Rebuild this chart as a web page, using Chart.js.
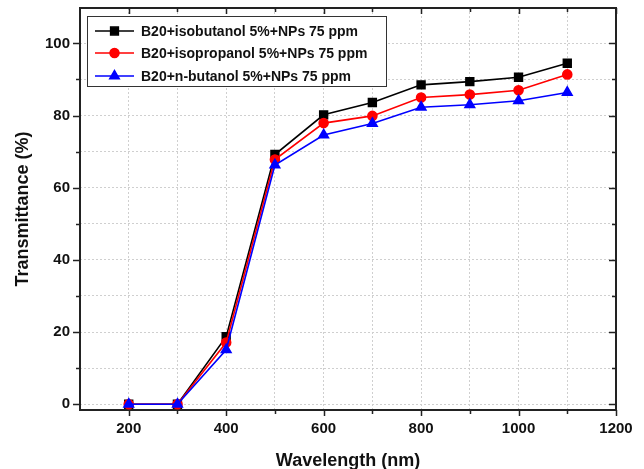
<!DOCTYPE html>
<html>
<head>
<meta charset="utf-8">
<script src="https://cdn.jsdelivr.net/npm/chart.js@4/dist/chart.umd.min.js"></script>
<style>
  html, body { margin: 0; padding: 0; background: #fff; }
  #wrap { width: 644px; height: 469px; position: relative; }
</style>
</head>
<body>
<div id="wrap"><canvas id="chart"></canvas></div>
<script>
// wavelength (nm)
const wavelengths = [200, 300, 400, 500, 600, 700, 800, 900, 1000, 1100];

// transmittance (%)
const isobutanol = [0, 0, 18.7, 69.2, 80.2, 83.6, 88.5, 89.4, 90.6, 94.5];
const isopropanol = [0, 0, 17.1, 67.8, 77.9, 79.9, 85.0, 85.8, 87.0, 91.4];
const nButanol = [0, 0, 15.1, 66.3, 74.6, 77.8, 82.3, 83.0, 84.1, 86.4];

const seriesLabels = [
    'B20+isobutanol 5%+NPs 75 ppm',
    'B20+isopropanol 5%+NPs 75 ppm',
    'B20+n-butanol 5%+NPs 75 ppm'
];

const xTicks = [200, 400, 600, 800, 1000, 1200];
const yTicks = [0, 20, 40, 60, 80, 100];

const FONT = '"Liberation Sans", Arial, sans-serif';

function toPoints(ys) {
    return wavelengths.map((x, i) => ({ x: x, y: ys[i] }));
}

// frame, tick marks on all four sides
const framePlugin = {
    id: 'frame',
    beforeDatasetsDraw(chart) {
        const { ctx, chartArea: a, scales } = chart;
        const xs = scales.x, ys = scales.y;
        ctx.save();
        ctx.strokeStyle = '#222';
        ctx.lineWidth = 1.5;
        // x ticks every 100 nm
        for (let v = 200; v <= 1200; v += 100) {
            const px = Math.round(xs.getPixelForValue(v)) + 0.5;
            const major = v % 200 === 0;
            const len = major ? 6 : 4;
            ctx.beginPath();
            ctx.moveTo(px, a.bottom);
            ctx.lineTo(px, a.bottom + len);
            ctx.moveTo(px, a.top);
            ctx.lineTo(px, a.top + len);
            ctx.stroke();
        }
        // y ticks every 10
        for (let v = 0; v <= 100; v += 10) {
            const py = Math.round(ys.getPixelForValue(v)) + 0.5;
            const major = v % 20 === 0;
            const len = major ? 7 : 4;
            ctx.beginPath();
            ctx.moveTo(a.left, py);
            ctx.lineTo(a.left - len, py);
            ctx.moveTo(a.right, py);
            ctx.lineTo(a.right - len, py);
            ctx.stroke();
        }
        ctx.lineWidth = 2;
        ctx.strokeRect(a.left, a.top, a.right - a.left, a.bottom - a.top);
        ctx.restore();
    }
};

// legend box in the upper left corner of the plot
const legendPlugin = {
    id: 'boxLegend',
    afterDraw(chart) {
        const ctx = chart.ctx;
        const x0 = 87, y0 = 16, w = 299, h = 70;
        const rows = [31, 53, 76];
        ctx.save();
        ctx.fillStyle = '#fff';
        ctx.fillRect(x0, y0, w, h);
        ctx.strokeStyle = '#333';
        ctx.lineWidth = 1;
        ctx.strokeRect(x0 + 0.5, y0 + 0.5, w, h);
        chart.data.datasets.forEach((ds, i) => {
            const y = rows[i];
            ctx.strokeStyle = ds.borderColor;
            ctx.lineWidth = 1.5;
            ctx.beginPath();
            ctx.moveTo(95, y);
            ctx.lineTo(134, y);
            ctx.stroke();
            Chart.helpers.drawPoint(ctx, {
                pointStyle: ds.pointStyle,
                radius: ds.pointRadius,
                borderWidth: 1
            }, 114.5, y);
            ctx.fillStyle = ds.borderColor;
            ctx.fill();
            ctx.fillStyle = '#111';
            ctx.font = 'bold 14px ' + FONT;
            ctx.textBaseline = 'middle';
            ctx.textAlign = 'left';
            ctx.fillText(ds.label, 141, y + 1);
        });
        ctx.restore();
    }
};

const gridStyle = {
    color: '#cfcfcf',
    lineWidth: 1,
    drawTicks: false
};
const borderStyle = { display: false, dash: [2, 2] };

new Chart(document.getElementById('chart'), {
    type: 'line',
    data: {
        datasets: [
            {
                label: seriesLabels[0],
                data: toPoints(isobutanol),
                borderColor: '#000',
                backgroundColor: '#000',
                pointStyle: 'rect',
                pointRadius: 5.5,
                borderWidth: 1.6,
                order: 3
            },
            {
                label: seriesLabels[1],
                data: toPoints(isopropanol),
                borderColor: '#ff0000',
                backgroundColor: '#ff0000',
                pointStyle: 'circle',
                pointRadius: 4.5,
                borderWidth: 1.6,
                order: 2
            },
            {
                label: seriesLabels[2],
                data: toPoints(nButanol),
                borderColor: '#0000ff',
                backgroundColor: '#0000ff',
                pointStyle: 'triangle',
                pointRadius: 5.5,
                borderWidth: 1.6,
                order: 1
            }
        ]
    },
    options: {
        responsive: true,
        maintainAspectRatio: false,
        animation: false,
        layout: { padding: { top: 8, right: 28, left: 0, bottom: 0 } },
        elements: {
            line: { tension: 0 },
            point: { borderWidth: 0, hoverRadius: 6 }
        },
        plugins: {
            legend: { display: false },
            tooltip: { enabled: false }
        },
        scales: {
            x: {
                type: 'linear',
                min: 100,
                max: 1200,
                afterBuildTicks(scale) {
                    const t = [];
                    for (let v = 200; v <= 1200; v += 100) t.push({ value: v });
                    scale.ticks = t;
                },
                afterFit(scale) {
                    scale.height = 59;
                    scale.paddingLeft = 0;
                    scale.paddingRight = 0;
                },
                grid: gridStyle,
                border: borderStyle,
                ticks: {
                    padding: 10,
                    color: '#111',
                    font: { family: FONT, size: 15, weight: 'bold' },
                    callback: v => (xTicks.includes(v) ? String(v) : '')
                },
                title: {
                    display: true,
                    text: 'Wavelength (nm)',
                    color: '#111',
                    font: { family: FONT, size: 18, weight: 'bold' },
                    padding: { top: 9, bottom: -3 }
                }
            },
            y: {
                type: 'linear',
                min: -1.6,
                max: 109.8,
                afterBuildTicks(scale) {
                    const t = [];
                    for (let v = 0; v <= 100; v += 10) t.push({ value: v });
                    scale.ticks = t;
                },
                afterFit(scale) {
                    scale.width = 80;
                    scale.paddingTop = 0;
                    scale.paddingBottom = 0;
                },
                grid: gridStyle,
                border: borderStyle,
                ticks: {
                    padding: 10,
                    color: '#111',
                    font: { family: FONT, size: 15, weight: 'bold' },
                    callback: v => (yTicks.includes(v) ? String(v) : '')
                },
                title: {
                    display: true,
                    text: 'Transmittance (%)',
                    color: '#111',
                    font: { family: FONT, size: 18, weight: 'bold' },
                    padding: { top: 12, bottom: 0 }
                }
            }
        }
    },
    plugins: [framePlugin, legendPlugin]
});
</script>
</body>
</html>
